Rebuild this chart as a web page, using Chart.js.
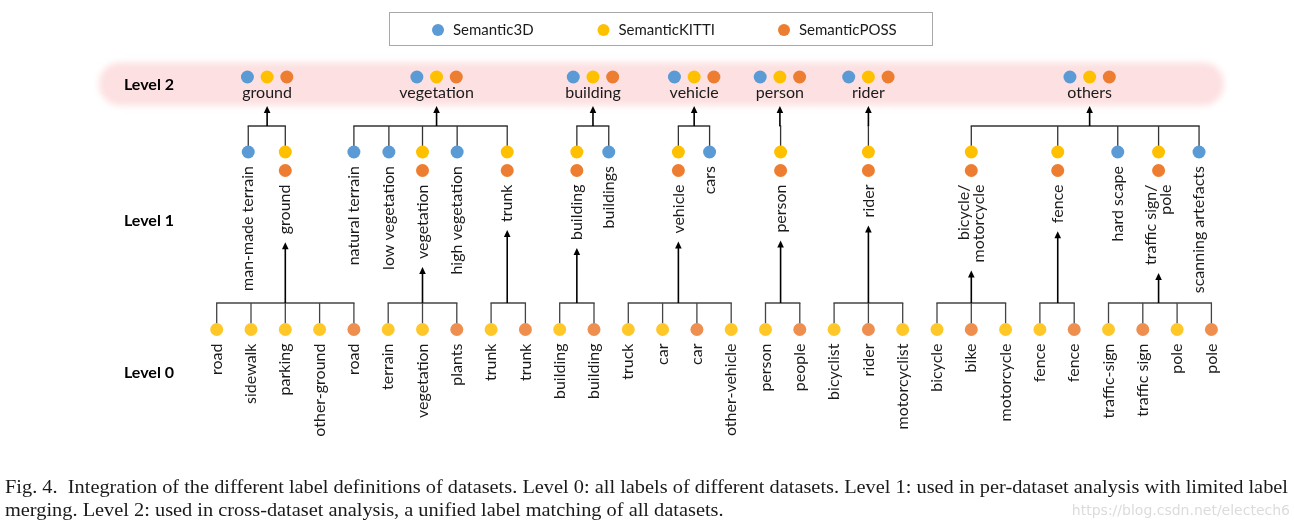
<!DOCTYPE html>
<html><head><meta charset="utf-8">
<script src="https://cdn.jsdelivr.net/npm/chart.js@4.4.0/dist/chart.umd.min.js"></script>
<style>html,body{margin:0;padding:0;background:#fff;overflow:hidden}#wrap{width:1294px;height:523px}</style>
</head><body><div id="wrap"><canvas id="c" width="1294" height="523"></canvas></div>
<script>
// ================= DATA =================
const seriesNames = ['Semantic3D', 'SemanticKITTI', 'SemanticPOSS'];
const seriesCodes = ['3', 'K', 'P'];
const levelNames = ['Level 0', 'Level 1', 'Level 2'];

const level2Labels = ['ground', 'vegetation', 'building', 'vehicle', 'person', 'rider', 'others'];
const level2X = [1.47, 6.41, 10.97, 13.92, 16.42, 19.0, 25.45];

const level1Labels = ['man-made terrain', 'ground', 'natural terrain', 'low vegetation', 'vegetation',
  'high vegetation', 'trunk', 'building', 'buildings', 'vehicle', 'cars', 'person', 'rider',
  'bicycle/\nmotorcycle', 'fence', 'hard scape', 'traffic sign/\npole', 'scanning artefacts'];
const level1X = [0.92, 2, 4, 5.02, 6, 7.01, 8.47, 10.5, 11.43, 13.46, 14.37, 16.44, 19, 22, 24.52, 26.27, 27.46, 28.64];
const level1Sources = ['3', 'KP', '3', '3', 'KP', '3', 'KP', 'KP', '3', 'KP', '3', 'KP', 'KP', 'KP', 'KP', '3', 'KP', '3'];
const level1Parent = [0, 0, 1, 1, 1, 1, 1, 2, 2, 3, 3, 4, 5, 6, 6, 6, 6, 6];

const level0Labels = ['road', 'sidewalk', 'parking', 'other-ground', 'road', 'terrain', 'vegetation', 'plants',
  'trunk', 'trunk', 'building', 'building', 'truck', 'car', 'car', 'other-vehicle', 'person', 'people',
  'bicyclist', 'rider', 'motorcyclist', 'bicycle', 'bike', 'motorcycle', 'fence', 'fence',
  'traffic-sign', 'traffic sign', 'pole', 'pole'];
const level0Sources = ['K', 'K', 'K', 'K', 'P', 'K', 'K', 'P', 'K', 'P', 'K', 'P', 'K', 'K', 'P', 'K', 'K', 'P',
  'K', 'P', 'K', 'K', 'P', 'K', 'K', 'P', 'K', 'P', 'K', 'P'];
const level0Parent = [1, 1, 1, 1, 1, 4, 4, 4, 6, 6, 7, 7, 9, 9, 9, 9, 11, 11, 12, 12, 12, 13, 13, 13, 14, 14, 16, 16, 16, 16];

const captionLines = [
  'Fig. 4.  Integration of the different label definitions of datasets. Level 0: all labels of different datasets. Level 1: used in per-dataset analysis with limited label',
  'merging. Level 2: used in cross-dataset analysis, a unified label matching of all datasets.'
];
const watermark = 'https://blog.csdn.net/electech6';

// ================= LAYOUT / STYLE =================
const X_MIN = -216.7 / 34.3, X_MAX = (1294 - 216.7) / 34.3;
const L2_GAP = 19.7 / 34.3;           // horizontal gap between level-2 dots (x units)
const ROW = { l2Dot: 77, l2Text: 92.5, l2Tip: 106, l1Bar: 126, l1Dot1: 152, l1Dot2: 170.5,
              l0Bar: 303, l0Dot: 329.5, textGap: 14, arrowGap: 8 };
const R = 6.5;
const colors = ['#5b9bd5', '#ffc000', '#ed7d31'];
const colorsL0 = ['#5b9bd5', '#ffc828', '#ef8f4f'];
const LABEL_FONT = '16px Lato';
const TXT = '#1a1a1a';

// ================= POINTS =================
const points = [[], [], []];
level2X.forEach(x => { [0, 1, 2].forEach(k => points[k].push({ x: x + (k - 1) * L2_GAP, y: ROW.l2Dot, l: 2 })); });
level1X.forEach((x, j) => {
  const s = level1Sources[j];
  if (s.includes('3')) points[0].push({ x, y: ROW.l1Dot1, l: 1 });
  if (s.includes('K')) points[1].push({ x, y: ROW.l1Dot1, l: 1 });
  if (s.includes('P')) points[2].push({ x, y: s.includes('K') ? ROW.l1Dot2 : ROW.l1Dot1, l: 1 });
});
level0Labels.forEach((_, i) => {
  const k = seriesCodes.indexOf(level0Sources[i]);
  points[k].push({ x: i, y: ROW.l0Dot, l: 0 });
});

function l1LowestDot(j) { return level1Sources[j] === 'KP' ? ROW.l1Dot2 : ROW.l1Dot1; }

function rotText(ctx, text, x, yTop) {
  const lines = text.split('\n');
  const lh = 15;
  let maxW = 0;
  lines.forEach((ln, n) => {
    const off = (n - (lines.length - 1) / 2) * lh;
    ctx.save();
    ctx.translate(x + off, yTop);
    ctx.rotate(-Math.PI / 2);
    ctx.textAlign = 'right';
    ctx.textBaseline = 'middle';
    ctx.fillText(ln, 0, 0);
    ctx.restore();
    maxW = Math.max(maxW, ctx.measureText(ln).width);
  });
  return maxW;
}
function line(ctx, x1, y1, x2, y2) { ctx.beginPath(); ctx.moveTo(x1, y1); ctx.lineTo(x2, y2); ctx.stroke(); }
function arrow(ctx, x, yFrom, yTip) {
  ctx.save();
  ctx.strokeStyle = '#000'; ctx.lineWidth = 1.6;
  line(ctx, x, yFrom, x, yTip + 5);
  ctx.fillStyle = '#000';
  ctx.beginPath(); ctx.moveTo(x, yTip); ctx.lineTo(x - 3.3, yTip + 7); ctx.lineTo(x + 3.3, yTip + 7); ctx.closePath(); ctx.fill();
  ctx.restore();
}

const diagram = {
  id: 'diagram',
  beforeDatasetsDraw(chart) {
    const ctx = chart.ctx, sx = chart.scales.x, sy = chart.scales.y;
    const X = v => sx.getPixelForValue(v), Y = v => sy.getPixelForValue(v);
    // pink band
    ctx.save();
    ctx.filter = 'blur(3px)';
    ctx.fillStyle = '#fde0e1';
    ctx.beginPath(); ctx.roundRect(99, 62.5, 1125, 43, 21); ctx.fill();
    ctx.restore();

    ctx.save();
    ctx.font = LABEL_FONT;
    // level1 -> level2 connectors
    level2X.forEach((x2, m) => {
      ctx.strokeStyle = '#333'; ctx.lineWidth = 1.3;
      const kids = level1X.map((x, j) => ({ x, j })).filter(o => level1Parent[o.j] === m);
      const xs = kids.map(o => X(o.x)).concat([X(x2)]);
      line(ctx, Math.min(...xs) - 0.6, Y(ROW.l1Bar), Math.max(...xs) + 0.6, Y(ROW.l1Bar));
      kids.forEach(o => line(ctx, X(o.x), Y(ROW.l1Dot1) - R + 1, X(o.x), Y(ROW.l1Bar)));
      arrow(ctx, X(x2), Y(ROW.l1Bar), Y(ROW.l2Tip));
    });
    // level0 -> level1 connectors
    level1X.forEach((x1, j) => {
      const kids = level0Parent.map((p, i) => ({ p, i })).filter(o => o.p === j).map(o => o.i);
      if (!kids.length) return;
      const xs = kids.map(i => X(i));
      ctx.strokeStyle = '#444'; ctx.lineWidth = 1.3;
      line(ctx, Math.min(...xs) - 0.6, Y(ROW.l0Bar), Math.max(...xs) + 0.6, Y(ROW.l0Bar));
      kids.forEach(i => line(ctx, X(i), Y(ROW.l0Dot) - R + 1, X(i), Y(ROW.l0Bar)));
      const lines = level1Labels[j].split('\n');
      const w = Math.max(...lines.map(t => ctx.measureText(t).width));
      const tip = Y(l1LowestDot(j)) + ROW.textGap + w + ROW.arrowGap;
      arrow(ctx, X(x1), Y(ROW.l0Bar), tip);
    });
    ctx.restore();
  },
  afterDatasetsDraw(chart) {
    const ctx = chart.ctx, sx = chart.scales.x, sy = chart.scales.y;
    const X = v => sx.getPixelForValue(v), Y = v => sy.getPixelForValue(v);
    ctx.save();
    ctx.fillStyle = '#000';
    // level names
    ctx.font = 'bold 16px Lato';
    ctx.textAlign = 'center'; ctx.textBaseline = 'middle';
    [[2, 85], [1, 221], [0, 373]].forEach(([lv, y]) => ctx.fillText(levelNames[lv], 149, y));
    ctx.fillStyle = TXT;
    // level 2 labels
    ctx.font = LABEL_FONT;
    level2Labels.forEach((t, m) => ctx.fillText(t, X(level2X[m]), Y(ROW.l2Text)));
    // level 1 labels
    level1Labels.forEach((t, j) => rotText(ctx, t, X(level1X[j]), Y(l1LowestDot(j)) + ROW.textGap));
    // level 0 labels
    level0Labels.forEach((t, i) => rotText(ctx, t, X(i), Y(ROW.l0Dot) + ROW.textGap));

    // legend
    ctx.strokeStyle = '#a8a8a8'; ctx.lineWidth = 1;
    ctx.strokeRect(389.5, 12.5, 543, 33);
    const legX = [438, 603.5, 784];
    ctx.font = '15px Lato'; ctx.textAlign = 'left'; ctx.textBaseline = 'middle';
    chart.data.datasets.forEach((ds, k) => {
      ctx.fillStyle = colors[k];
      ctx.beginPath(); ctx.arc(legX[k], 30, 6, 0, Math.PI * 2); ctx.fill();
      ctx.fillStyle = TXT;
      ctx.fillText(ds.label, legX[k] + 15, 30);
    });

    // caption
    ctx.font = '19px "Liberation Serif"';
    ctx.textBaseline = 'alphabetic';
    ctx.fillStyle = '#1a1a1a';
    const w1 = ctx.measureText(captionLines[0]).width;
    const scx = 1283 / w1;
    [[captionLines[0], 493], [captionLines[1], 516]].forEach(([t, y]) => {
      ctx.save(); ctx.translate(5, y); ctx.scale(scx, 1); ctx.fillText(t, 0, 0); ctx.restore();
    });
    // watermark
    ctx.font = '14px "DejaVu Sans"';
    ctx.fillStyle = 'rgba(190,190,190,0.55)';
    ctx.textAlign = 'right';
    ctx.fillText(watermark, 1290, 515);
    ctx.restore();
  }
};

new Chart(document.getElementById('c'), {
  type: 'scatter',
  data: {
    datasets: seriesNames.map((name, k) => ({
      label: name,
      data: points[k],
      backgroundColor: c => (c.raw && c.raw.l === 0) ? colorsL0[k] : colors[k],
      pointRadius: R, pointHoverRadius: R, borderWidth: 0, clip: false
    }))
  },
  options: {
    responsive: false, animation: false, events: [],
    layout: { padding: 0, autoPadding: false },
    plugins: { legend: { display: false }, tooltip: { enabled: false } },
    scales: {
      x: { type: 'linear', display: false, min: X_MIN, max: X_MAX },
      y: { type: 'linear', display: false, min: 0, max: 523, reverse: true }
    }
  },
  plugins: [diagram]
});
</script></body></html>
